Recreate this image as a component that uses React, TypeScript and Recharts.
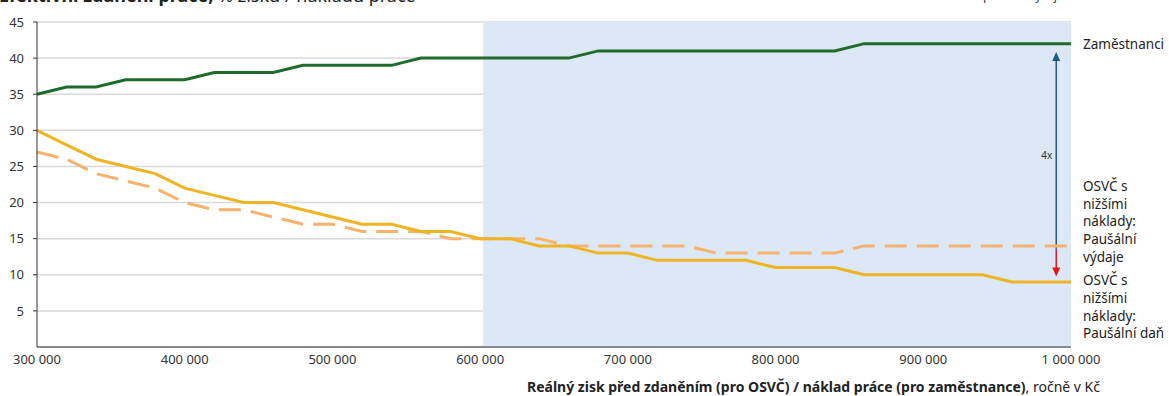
import React from 'react';
import { LineChart, Line, XAxis, YAxis, CartesianGrid, ReferenceArea, ReferenceLine, LabelList } from 'recharts';

// roční zisk / náklad práce (Kč)
const incomes = [
  300000, 320000, 340000, 360000, 380000, 400000, 420000, 440000, 460000, 480000,
  500000, 520000, 540000, 560000, 580000, 600000, 620000, 640000, 660000, 680000,
  700000, 720000, 740000, 760000, 780000, 800000, 820000, 840000, 860000, 880000,
  900000, 920000, 940000, 960000, 980000, 1000000,
];

// % efektivního zdanění
const employees = [
  35, 36, 36, 37, 37, 37, 38, 38, 38, 39, 39, 39, 39, 40, 40, 40, 40, 40,
  40, 41, 41, 41, 41, 41, 41, 41, 41, 41, 42, 42, 42, 42, 42, 42, 42, 42,
];
const flatExpenses = [
  27, 26, 24, 23, 22, 20, 19, 19, 18, 17, 17, 16, 16, 16, 15, 15, 15, 15,
  14, 14, 14, 14, 14, 13, 13, 13, 13, 13, 14, 14, 14, 14, 14, 14, 14, 14,
];
const flatTax = [
  30, 28, 26, 25, 24, 22, 21, 20, 20, 19, 18, 17, 17, 16, 16, 15, 15, 14,
  14, 13, 13, 12, 12, 12, 12, 11, 11, 11, 10, 10, 10, 10, 10, 9, 9, 9,
];

const xTicks = [300000, 400000, 500000, 600000, 700000, 800000, 900000, 1000000];
const yTicks = [5, 10, 15, 20, 25, 30, 35, 40, 45];

const labelEmployees = ['Zaměstnanci'];
const labelExpenses = ['OSVČ s', 'nižšími', 'náklady:', 'Paušální', 'výdaje'];
const labelTax = ['OSVČ s', 'nižšími', 'náklady:', 'Paušální daň'];

// zvýrazněná oblast a šipka "4x"
const shadeFrom = 602000;
const arrowX = 990000;
const arrowTop = 40.85;
const arrowSplit = 13.5;
const arrowBottom = 9.75;

const data = incomes.map((income, i) => ({
  income,
  employees: employees[i],
  flatExpenses: flatExpenses[i],
  flatTax: flatTax[i],
}));

const FONT = '"Noto Sans", sans-serif';
const fmt = (v: number) => v.toLocaleString('en-US').replace(/,/g, ' ');

const endLabel = (lines: string[], startDy: number) => (props: any) => {
  const { x, y, index } = props;
  if (index !== incomes.length - 1) return null;
  return (
    <text x={x + 12} y={y + startDy} fill="#222" fontSize={13.5} fontFamily={FONT}>
      {lines.map((l, i) => (
        <tspan key={i} x={x + 12} dy={i === 0 ? 0 : 17.8}>{l}</tspan>
      ))}
    </text>
  );
};

const Arrow = ({ color, head, text }: { color: string; head: boolean; text?: string }) => (props: any) => {
  const { x1, y1, x2, y2 } = props;
  const top = Math.min(y1, y2);
  const bot = Math.max(y1, y2);
  const x = x1;
  return (
    <g>
      {head ? (
        <>
          <line x1={x} y1={top} x2={x} y2={bot - 8} stroke={color} strokeWidth={1.5} />
          <polygon points={`${x - 4},${bot - 9} ${x + 4},${bot - 9} ${x},${bot}`} fill={color} />
        </>
      ) : (
        <>
          <line x1={x} y1={top + 8} x2={x} y2={bot} stroke={color} strokeWidth={1.5} />
          <polygon points={`${x - 4},${top + 9} ${x + 4},${top + 9} ${x},${top}`} fill={color} />
          {text && (
            <text x={x - 4} y={(top + bot) / 2 + 8} textAnchor="end" fontSize={10} fill="#333" fontFamily={FONT}>{text}</text>
          )}
        </>
      )}
    </g>
  );
};

export default function App() {
  return (
    <div style={{ position: 'absolute', left: 0, top: 0, width: 1169, height: 396, overflow: 'hidden', background: '#fff', fontFamily: FONT }}>
      <LineChart width={1169} height={396} data={data} margin={{ top: 22, right: 98, bottom: 19, left: 0 }}>
        <ReferenceArea x1={shadeFrom} x2={1000000} y1={0} y2={45} fill="#dce8f5" fillOpacity={1} stroke="none" />
        <CartesianGrid vertical={false} stroke="#d9d9d9" strokeWidth={1.5} />
        <XAxis
          dataKey="income"
          type="number"
          domain={[300000, 1000000]}
          ticks={xTicks}
          tickFormatter={fmt}
          height={30}
          axisLine={{ stroke: '#333' }}
          tickLine={false}
          tickSize={0}
          tickMargin={8}
          tick={{ fill: '#333', fontSize: 13, fontFamily: FONT }}
          interval={0}
        />
        <YAxis
          type="number"
          domain={[0, 45]}
          ticks={yTicks}
          width={37}
          axisLine={{ stroke: '#333' }}
          tickLine={{ stroke: '#333' }}
          tickSize={4}
          tickMargin={9}
          tick={{ fill: '#333', fontSize: 13, fontFamily: FONT }}
        />
        <ReferenceLine
          segment={[{ x: arrowX, y: arrowTop }, { x: arrowX, y: arrowSplit }]}
          stroke="#1f5a85"
          shape={Arrow({ color: '#1f5a85', head: false, text: '4x' })}
        />
        <ReferenceLine
          segment={[{ x: arrowX, y: arrowSplit }, { x: arrowX, y: arrowBottom }]}
          stroke="#e3141c"
          shape={Arrow({ color: '#e3141c', head: true })}
        />
        <Line dataKey="employees" stroke="#1e6b2a" strokeWidth={3} dot={false} isAnimationActive={false} type="linear">
          <LabelList dataKey="employees" content={endLabel(labelEmployees, 5)} />
        </Line>
        <Line dataKey="flatExpenses" stroke="#f7b36e" strokeWidth={3} strokeDasharray="22 10" dot={false} isAnimationActive={false} type="linear">
          <LabelList dataKey="flatExpenses" content={endLabel(labelExpenses, -55)} />
        </Line>
        <Line dataKey="flatTax" stroke="#efb424" strokeWidth={3} dot={false} isAnimationActive={false} type="linear">
          <LabelList dataKey="flatTax" content={endLabel(labelTax, 3)} />
        </Line>
      </LineChart>
      <div style={{ position: 'absolute', left: -1, top: -16, fontSize: 18, lineHeight: '22px', color: '#222', whiteSpace: 'nowrap' }}>
        <b>Efektivní zdanění práce,</b> % zisku / nákladu práce
      </div>
      <div style={{ position: 'absolute', right: 106, top: -11, fontSize: 11, lineHeight: '14px', color: '#222', whiteSpace: 'nowrap' }}>
        daň nižší než paušální výdaje
      </div>
      <div style={{ position: 'absolute', right: 69, top: 378, fontSize: 14, lineHeight: '18px', color: '#222', whiteSpace: 'nowrap' }}>
        <b>Reálný zisk před zdaněním (pro OSVČ) / náklad práce (pro zaměstnance)</b>, ročně v Kč
      </div>
    </div>
  );
}
